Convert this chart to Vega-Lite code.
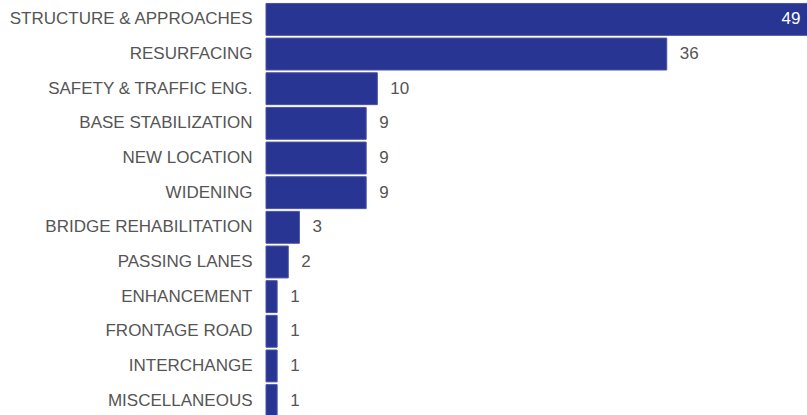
{
  "$schema": "https://vega.github.io/schema/vega-lite/v6.json",
  "width": 541,
  "height": 415,
  "autosize": {"type": "none"},
  "padding": {"left": 266, "top": 0, "right": 0, "bottom": 0},
  "background": "white",
  "config": {"view": {"stroke": null}, "font": "Liberation Sans"},
  "data": {"values": [
    {"category": "STRUCTURE & APPROACHES", "count": 49},
    {"category": "RESURFACING", "count": 36},
    {"category": "SAFETY & TRAFFIC ENG.", "count": 10},
    {"category": "BASE STABILIZATION", "count": 9},
    {"category": "NEW LOCATION", "count": 9},
    {"category": "WIDENING", "count": 9},
    {"category": "BRIDGE REHABILITATION", "count": 3},
    {"category": "PASSING LANES", "count": 2},
    {"category": "ENHANCEMENT", "count": 1},
    {"category": "FRONTAGE ROAD", "count": 1},
    {"category": "INTERCHANGE", "count": 1},
    {"category": "MISCELLANEOUS", "count": 1}
  ]},
  "encoding": {
    "y": {"field": "category", "type": "nominal", "sort": null,
      "scale": {"paddingInner": 0.08, "paddingOuter": 0.1, "range": [0, 420]},
      "axis": {"title": null, "ticks": false, "domain": false, "labelPadding": 14, "labelFontSize": 17, "labelColor": "#555555", "labelFont": "Liberation Sans", "labelLimit": 300}},
    "x": {"field": "count", "type": "quantitative", "scale": {"domain": [0, 48.6], "nice": false, "clamp": false}, "axis": null}
  },
  "layer": [
    {"mark": {"type": "bar", "color": "#283593", "stroke": "#4a52a3", "strokeWidth": 1}},
    {"transform": [{"filter": "datum.count < 40"}],
     "mark": {"type": "text", "align": "left", "dx": 13, "fontSize": 17, "color": "#555555"},
     "encoding": {"text": {"field": "count", "type": "quantitative"}}},
    {"transform": [{"filter": "datum.count >= 40"}],
     "mark": {"type": "text", "align": "right", "dx": -11, "fontSize": 17, "color": "white"},
     "encoding": {"text": {"field": "count", "type": "quantitative"}}}
  ]
}
